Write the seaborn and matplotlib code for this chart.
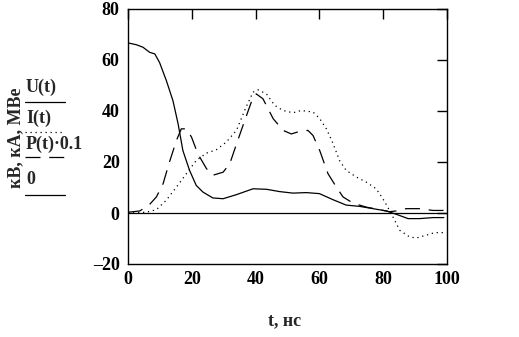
import numpy as np
import pandas as pd
import matplotlib
matplotlib.use("Agg")
import matplotlib.pyplot as plt
from matplotlib.lines import Line2D
import seaborn as sns

sns.set_style("white")
plt.rcParams["font.family"] = ["Liberation Serif", "DejaVu Serif"]
plt.rcParams["font.weight"] = "bold"

# Voltage U(t), kV
t_u = [0, 2.6, 4.7, 6.8, 8.4, 9.9, 12, 14.1, 15.7, 17.2, 19.3, 21.4, 23.5, 26.6,
       29.8, 34, 39.2, 43.4, 47.5, 51.7, 55.9, 60, 64.3, 68.4, 72.6, 76.8, 81,
       84.1, 87.8, 91.4, 95.6, 99]
u = [66.7, 66, 65, 63, 62.4, 59, 52, 44, 35, 24.5, 16.7, 10.8, 8.2, 5.9,
     5.6, 7.2, 9.5, 9.3, 8.4, 7.8, 8, 7.6, 5.2, 3.1, 2.6, 1.7, 0.8,
     -0.5, -2.2, -2.2, -1.8, -1.8]

# Current I(t), kA
t_i = [0, 5.7, 8.9, 12, 15.2, 18.3, 21.4, 24.6, 27.7, 30.8, 34, 37, 39.2, 40.8,
       43.4, 46, 48.6, 51.7, 54.3, 58, 60.1, 62.2, 64.3, 66.3, 68.4, 71.6, 74.7,
       77.8, 79.9, 82, 83.6, 85.2, 88.3, 90.4, 93.5, 96.1, 99.3]
i_cur = [0, 0.3, 1.3, 5, 10.2, 15.4, 20.6, 23.5, 24.8, 27.8, 32.4, 41.5, 47.4, 48.3,
         46.7, 42.2, 40.2, 39.3, 40.2, 39.6, 37, 33, 27.2, 20.6, 16.7, 14.1, 12.1,
         9.5, 5.6, 1, -2.9, -6.8, -9.4, -9.8, -8.7, -7.7, -7.7]

# Power P(t) scaled by 0.1
t_p = [0, 3.7, 6.8, 8.9, 11, 13, 15.2, 16.7, 18.3, 19.9, 21.9, 24.6, 26.6, 29.8,
       31.9, 34, 36.6, 39.2, 40.2, 42.3, 45.5, 48.6, 51.2, 53.8, 56.4, 58, 60.1,
       62.7, 65.3, 67.4, 70.5, 74.7, 78.9, 82, 84, 87.2, 91.4, 95.6, 99.3]
p01 = [0.3, 0.8, 3.4, 6.3, 11.5, 20, 28.5, 33, 33, 29.8, 23.2, 17.4, 14.8, 16,
       19.3, 27, 36.3, 45.4, 46.7, 44.8, 37, 32.4, 31, 32, 32.4, 30.4, 24.5,
       15.4, 10.2, 6.3, 3.9, 2.3, 1.3, 0.5, 0.8, 1.7, 1.7, 1, 1]

t_zero = [0, 100]
zero = [0, 0]

x_ticks = [0, 20, 40, 60, 80, 100]
y_ticks = [-20, 0, 20, 40, 60, 80]

df_u = pd.DataFrame({"t": t_u, "v": u})
df_i = pd.DataFrame({"t": t_i, "v": i_cur})
df_p = pd.DataFrame({"t": t_p, "v": p01})
df_0 = pd.DataFrame({"t": t_zero, "v": zero})

fs = 13

fig = plt.figure(figsize=(5.19, 3.37), dpi=100)
ax = fig.add_axes([128 / 519, 1 - 264 / 337, 319 / 519, 255 / 337])

lw = 0.9
sty_u = dict(color="black", linewidth=lw, linestyle="-")
sty_i = dict(color="black", linewidth=lw, linestyle=(0, (1, 3)))
sty_p = dict(color="black", linewidth=lw, linestyle=(0, (12, 7)))
sty_0 = dict(color="black", linewidth=lw, linestyle="-")

sns.lineplot(data=df_u, x="t", y="v", ax=ax, estimator=None, sort=False, **sty_u)
sns.lineplot(data=df_i, x="t", y="v", ax=ax, estimator=None, sort=False, **sty_i)
sns.lineplot(data=df_p, x="t", y="v", ax=ax, estimator=None, sort=False, **sty_p)
sns.lineplot(data=df_0, x="t", y="v", ax=ax, estimator=None, sort=False, **sty_0)

ax.set_xlim(0, 100)
ax.set_ylim(-20, 80)
ax.set_xticks(x_ticks)
ax.set_yticks(y_ticks)
ax.set_xticklabels([str(v) for v in x_ticks], fontsize=fs, fontweight="bold")
ax.set_yticklabels([str(v).replace("-", "\u2013") for v in y_ticks],
                   fontsize=fs, fontweight="bold")
ax.tick_params(direction="in", length=7, width=1, top=True, right=True,
               pad=6, colors="black")
ax.tick_params(axis="x", pad=5)
for s in ax.spines.values():
    s.set_color("black")
    s.set_linewidth(1)
ax.set_xlabel("")
ax.set_ylabel("")

fig.text(285 / 519, 1 - 321 / 337, "t, нс", ha="center", va="center",
         fontsize=fs, fontweight="bold")
fig.text(16 / 519, 1 - 138 / 337, "кВ, кА, МВе", ha="center", va="center",
         rotation=90, fontsize=fs, fontweight="bold")

# Stacked legend: label above, line sample below
legend_items = [("U(t)", 87, 102, sty_u), ("I(t)", 118, 132, sty_i),
                ("P(t)·0.1", 144, 157, sty_p), ("0", 179, 195, sty_0)]
for label, ty, ly, sty in legend_items:
    fig.text(26 / 519, 1 - ty / 337, label, ha="left", va="center",
             fontsize=fs, fontweight="bold")
    fig.add_artist(Line2D([25 / 519, 65 / 519], [1 - ly / 337, 1 - ly / 337],
                          transform=fig.transFigure, **sty))

fig.savefig("out.png", dpi=100)
